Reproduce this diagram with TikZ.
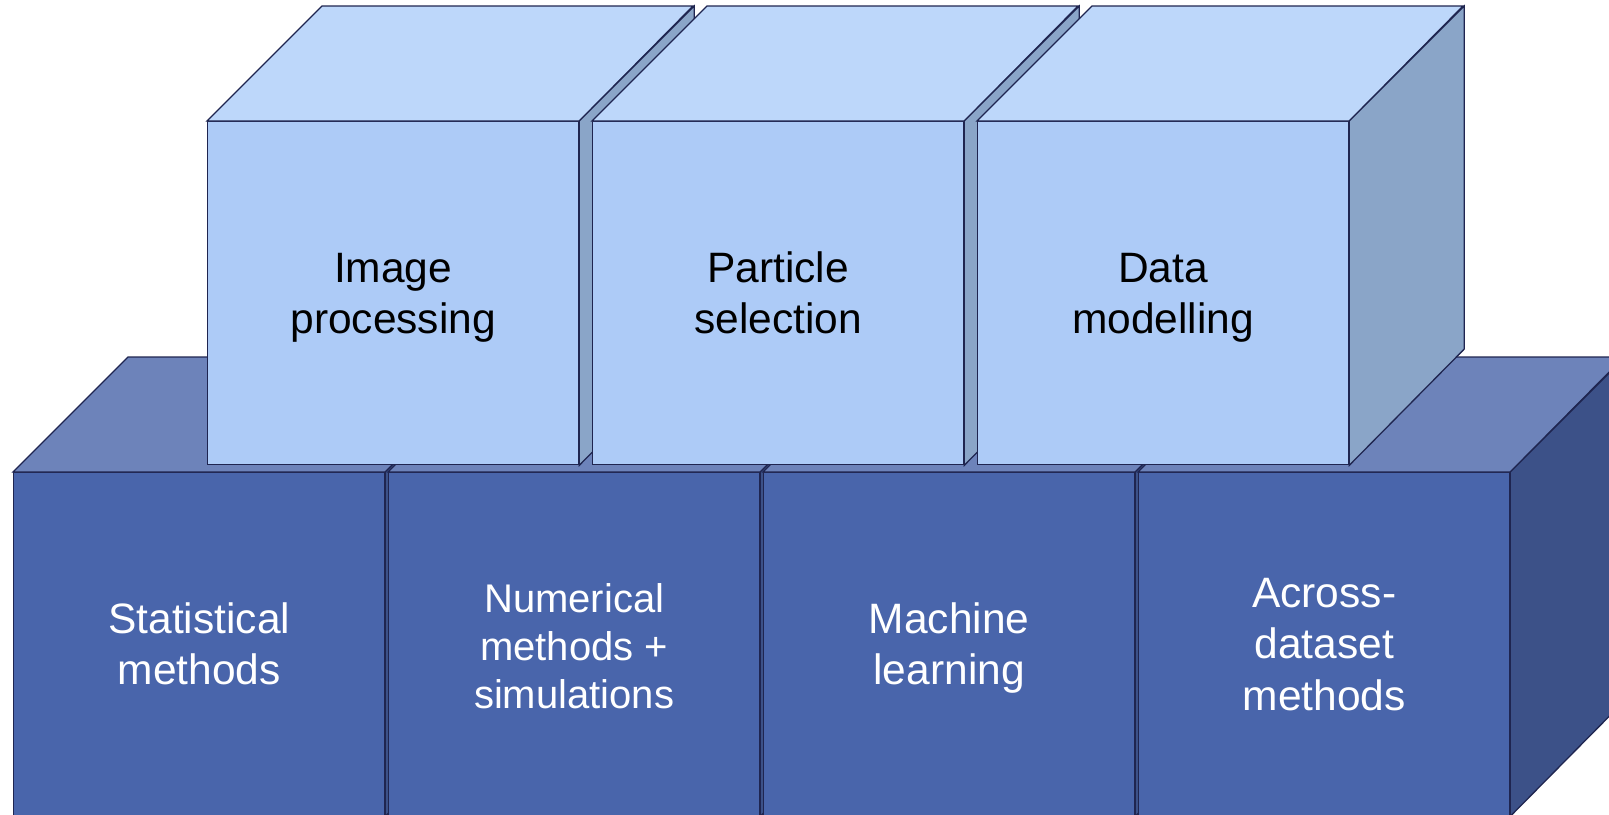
\documentclass[tikz,border=0pt]{standalone}
\usepackage{fontspec}
\setmainfont{Liberation Sans}

\definecolor{upfront}{HTML}{ADCBF7}
\definecolor{uptop}{HTML}{BDD7FA}
\definecolor{upside}{HTML}{8AA5C8}
\definecolor{lofront}{HTML}{4965AB}
\definecolor{lotop}{HTML}{6D83BA}
\definecolor{loside}{HTML}{3C5188}
\definecolor{edgeline}{HTML}{1F2550}

\tikzset{
  face/.style={draw=edgeline, line width=1.3pt, line join=miter},
  frontface/.style={face, minimum width=371pt, minimum height=343pt,
                    anchor=north west, inner sep=0pt},
  cubetext/.style={font=\fontsize{42.5}{51.5}\selectfont, align=center,
                   inner sep=0pt, yshift=-4.5pt},
  tighttext/.style={font=\fontsize{40}{47.7}\selectfont, yshift=-2.5pt},
}

% #1 extra text options, #2 node name, #3 x, #4 y (front top-left),
% #5 palette (up/lo), #6 text colour, #7 label
\newcommand\mkcube[7]{%
  \node[frontface, fill=#5front] (#2) at (#3,#4) {};
  \draw[face, fill=#5top] (#2.north west) -- ++(115,-115) -- ++(371,0)
        -- (#2.north east) -- cycle;
  \draw[face, fill=#5side] (#2.north east) -- ++(115,-115) -- ++(0,343)
        -- (#2.south east) -- cycle;
  \node[cubetext, text=#6, #1] (#2-text) at (#2.center) {\strut #7\strut};
}

\begin{document}
\begin{tikzpicture}[x=1pt, y=-1pt]
  \useasboundingbox (0,0) rectangle (1609,814);
  \clip (0,0) rectangle (1609,814);

  % lower row of methods
  \mkcube{}{stat}{13}{472}{lo}{white}{Statistical\\methods}
  \mkcube{tighttext}{num}{388}{472}{lo}{white}{Numerical\\methods +\\simulations}
  \mkcube{}{ml}{763}{472}{lo}{white}{Machine\\learning}
  \mkcube{}{across}{1138}{472}{lo}{white}{Across-\\dataset\\methods}

  % upper row of tasks
  \mkcube{}{img}{207}{121}{up}{black}{Image\\processing}
  \mkcube{}{part}{592}{121}{up}{black}{Particle\\selection}
  \mkcube{}{data}{977}{121}{up}{black}{Data\\modelling}
\end{tikzpicture}
\end{document}
